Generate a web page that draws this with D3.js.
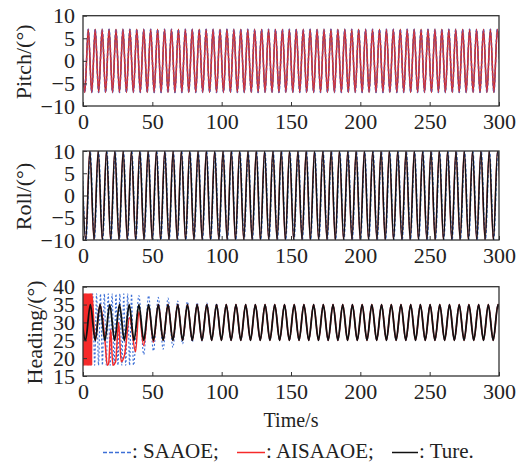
<!DOCTYPE html>
<html>
<head>
<meta charset="utf-8">
<script src="https://cdn.jsdelivr.net/npm/d3@7"></script>
<style>
  body { margin: 0; background: #fff; }
  text { font-family: "Liberation Serif", "Times New Roman", Times, serif; fill: #222; }
</style>
</head>
<body>
<script>
// axes
var timeDomain = [0, 300];
var timeTicks = [0, 50, 100, 150, 200, 250, 300];
var pitchTicks = [-10, -5, 0, 5, 10];
var rollTicks = [-10, -5, 0, 5, 10];
var headTicks = [15, 20, 25, 30, 35, 40];

// extremum values, one every half period
var pitchT0 = -1.2, pitchHalf = 2.5;
var pitchTrue = [
  7, -7, 7, -7, 7, -7, 7, -7, 7, -7, 7, -7, 7, -7, 7, -7, 7, -7, 7, -7,
  7, -7, 7, -7, 7, -7, 7, -7, 7, -7, 7, -7, 7, -7, 7, -7, 7, -7, 7, -7,
  7, -7, 7, -7, 7, -7, 7, -7, 7, -7, 7, -7, 7, -7, 7, -7, 7, -7, 7, -7,
  7, -7, 7, -7, 7, -7, 7, -7, 7, -7, 7, -7, 7, -7, 7, -7, 7, -7, 7, -7,
  7, -7, 7, -7, 7, -7, 7, -7, 7, -7, 7, -7, 7, -7, 7, -7, 7, -7, 7, -7,
  7, -7, 7, -7, 7, -7, 7, -7, 7, -7, 7, -7, 7, -7, 7, -7, 7, -7, 7, -7,
  7, -7
];

var rollT0 = -1, rollHalf = 3;
var rollTrue = [
  10, -10, 10, -10, 10, -10, 10, -10, 10, -10, 10, -10, 10, -10, 10, -10, 10, -10, 10, -10,
  10, -10, 10, -10, 10, -10, 10, -10, 10, -10, 10, -10, 10, -10, 10, -10, 10, -10, 10, -10,
  10, -10, 10, -10, 10, -10, 10, -10, 10, -10, 10, -10, 10, -10, 10, -10, 10, -10, 10, -10,
  10, -10, 10, -10, 10, -10, 10, -10, 10, -10, 10, -10, 10, -10, 10, -10, 10, -10, 10, -10,
  10, -10, 10, -10, 10, -10, 10, -10, 10, -10, 10, -10, 10, -10, 10, -10, 10, -10, 10, -10,
  10, -10
];
var rollLag = [0.2, -0.2]; // SAAOE, AISAAOE time offset (s)

var headT0 = -1.7, headHalf = 3.5;
var headTrue = [
  35, 25, 35, 25, 35, 25, 35, 25, 35, 25, 35, 25, 35, 25, 35, 25, 35, 25, 35, 25,
  35, 25, 35, 25, 35, 25, 35, 25, 35, 25, 35, 25, 35, 25, 35, 25, 35, 25, 35, 25,
  35, 25, 35, 25, 35, 25, 35, 25, 35, 25, 35, 25, 35, 25, 35, 25, 35, 25, 35, 25,
  35, 25, 35, 25, 35, 25, 35, 25, 35, 25, 35, 25, 35, 25, 35, 25, 35, 25, 35, 25,
  35, 25, 35, 25, 35, 25, 35, 25
];

// SAAOE heading: fast burst, then overshoot around the true extremes (index 12..28)
var saaoeBurstDt = 1.4;
var saaoeBurst = [18, 38, 18, 38, 18, 38, 18, 38, 18, 38, 18, 38, 18, 38,
  18, 38, 18, 38, 18, 38, 18, 38, 18, 38, 18, 38, 18];
var saaoeTailFrom = 12;
var saaoeTail = [37.5, 21, 37.5, 22, 37, 22.5, 36.8, 23, 36, 24, 35.8, 24.5, 35.5, 24.8, 35.4, 25, 35.3];

// AISAAOE heading: short burst, then a transient until 57.8 s
var aisBurstDt = 0.2;
var aisBurst = [38, 18, 38, 18, 38, 18, 38, 18, 38, 18, 38, 18, 38, 18, 38, 18,
  38, 18, 38, 18, 38, 18, 38, 18, 38, 18, 38, 18, 38, 18, 38, 18, 38];
var aisTailT = [8.8, 12.3, 15.8, 17.5, 18.5, 20, 21.5, 23.5, 25.7, 27.5, 30, 33.6, 37.9, 40.3, 43.8, 47.3, 50.8, 54.3, 57.8];
var aisTailV = [25, 35, 25, 18, 18.5, 28, 18, 19, 30, 19, 21, 31.3, 21.8, 33, 23.5, 34.5, 24.5, 35, 25];
var aisTailFrom = 18;

var W = 521, H = 462;
var left = 83, right = 499;
var colors = { saaoe: "#3d6fd6", ais: "#f62a2a", ture: "#111" };
var serif = "'Liberation Serif', 'Times New Roman', Times, serif";

function pts(vals, t0, dt, shift) {
  return vals.map(function(v, i) { return [t0 + i * dt + (shift || 0), v]; });
}

var svg = d3.select("body").append("svg").attr("width", W).attr("height", H);
var x = d3.scaleLinear().domain(timeDomain).range([left, right]);

function panel(id, top, bottom, domain, ticks, label, labelX, series) {
  var y = d3.scaleLinear().domain(domain).range([bottom, top]);
  var g = svg.append("g");

  g.append("clipPath").attr("id", "clip" + id)
    .append("rect").attr("x", left).attr("y", top)
    .attr("width", right - left).attr("height", bottom - top);

  var line = d3.line()
    .x(function(d) { return x(d[0]); })
    .y(function(d) { return y(d[1]); })
    .curve(d3.curveMonotoneX);

  var lines = g.append("g").attr("clip-path", "url(#clip" + id + ")");
  series.forEach(function(s) {
    lines.append("path")
      .attr("d", line(s.data))
      .attr("fill", "none")
      .attr("stroke", s.color)
      .attr("stroke-width", s.width)
      .attr("stroke-opacity", s.opacity || 1)
      .attr("stroke-dasharray", s.dash || null);
  });

  var ax = g.append("g").attr("transform", "translate(0," + bottom + ")")
    .call(d3.axisBottom(x).tickValues(timeTicks).tickSize(-4).tickPadding(7));
  var ay = g.append("g").attr("transform", "translate(" + left + ",0)")
    .call(d3.axisLeft(y).tickValues(ticks).tickSize(-4).tickPadding(8));
  [ax, ay].forEach(function(a) {
    a.attr("font-family", serif).attr("font-size", 22);
    a.select(".domain").remove();
    a.selectAll("line").attr("stroke", "#333");
    a.selectAll("text").attr("fill", "#222");
  });

  g.append("rect").attr("x", left).attr("y", top)
    .attr("width", right - left).attr("height", bottom - top)
    .attr("fill", "none").attr("stroke", "#333").attr("stroke-width", 1.3);

  g.append("text")
    .attr("transform", "translate(" + labelX + "," + ((top + bottom) / 2 + 1) + ") rotate(-90)")
    .attr("text-anchor", "middle")
    .attr("font-family", serif)
    .attr("font-size", 22)
    .text(label);
}

var pitchLine = pts(pitchTrue, pitchT0, pitchHalf);
panel("p", 15.7, 106, [-10, 10], pitchTicks, "Pitch/(°)", 30.5, [
  { data: pitchLine, color: colors.ture, width: 1.2 },
  { data: pitchLine, color: colors.saaoe, width: 1.6, dash: "3,2" },
  { data: pitchLine, color: colors.ais, width: 1.6, opacity: 0.75 }
]);

panel("r", 151, 240, [-10, 10], rollTicks, "Roll/(°)", 30.5, [
  { data: pts(rollTrue, rollT0, rollHalf, rollLag[0]), color: colors.saaoe, width: 1.3, dash: "3,2" },
  { data: pts(rollTrue, rollT0, rollHalf, rollLag[1]), color: "#b03a3a", width: 1.2 },
  { data: pts(rollTrue, rollT0, rollHalf), color: colors.ture, width: 1.4 }
]);

var headLine = pts(headTrue, headT0, headHalf);
var headSaaoe = pts(saaoeBurst, 0, saaoeBurstDt)
  .concat(pts(saaoeTail, headT0 + saaoeTailFrom * headHalf, headHalf))
  .concat(headLine.slice(saaoeTailFrom + saaoeTail.length));
var headAis = pts(aisBurst, 0, aisBurstDt)
  .concat(aisTailT.map(function(t, i) { return [t, aisTailV[i]]; }))
  .concat(headLine.slice(aisTailFrom));

panel("h", 286.7, 376, [15, 40], headTicks, "Heading/(°)", 41.5, [
  { data: headSaaoe, color: colors.saaoe, width: 1.1, dash: "2,2" },
  { data: headAis, color: colors.ais, width: 1.5 },
  { data: headLine, color: colors.ture, width: 1.8 }
]);

svg.append("text").attr("x", (left + right) / 2).attr("y", 427)
  .attr("text-anchor", "middle").attr("font-family", serif).attr("font-size", 20).text("Time/s");

var legend = [
  { name: ": SAAOE;", color: colors.saaoe, dash: "4,2", x0: 103, x1: 131 },
  { name: ": AISAAOE;", color: colors.ais, dash: null, x0: 237, x1: 265 },
  { name: ": Ture.", color: colors.ture, dash: null, x0: 392, x1: 418 }
];
var lg = svg.append("g");
legend.forEach(function(d) {
  lg.append("line").attr("x1", d.x0).attr("x2", d.x1).attr("y1", 452.5).attr("y2", 452.5)
    .attr("stroke", d.color).attr("stroke-width", 1.5).attr("stroke-dasharray", d.dash);
  lg.append("text").attr("x", d.x1 + 1).attr("y", 458).attr("font-family", serif)
    .attr("font-size", 21).text(d.name);
});
</script>
</body>
</html>
